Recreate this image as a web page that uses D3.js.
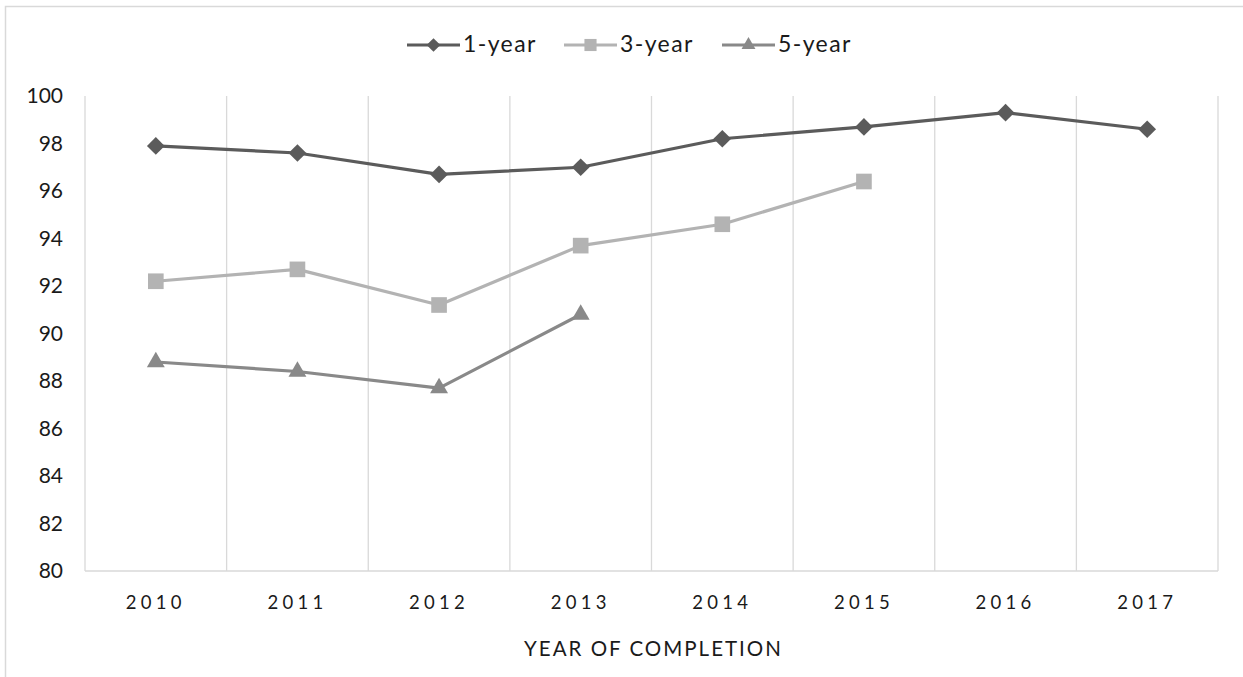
<!DOCTYPE html>
<html>
<head>
<meta charset="utf-8">
<script src="https://cdn.jsdelivr.net/npm/d3@7"></script>
<style>
  html, body { margin: 0; padding: 0; background: #fff; }
  svg { display: block; }
  text { font-family: "Lato", "DejaVu Sans", sans-serif; fill: #1a1a1a; }
</style>
</head>
<body>
<svg id="chart" width="1243" height="677"></svg>
<script>
const years = ["2010", "2011", "2012", "2013", "2014", "2015", "2016", "2017"];
const oneYear = [97.9, 97.6, 96.7, 97.0, 98.2, 98.7, 99.3, 98.6];
const threeYear = [92.2, 92.7, 91.2, 93.7, 94.6, 96.4, null, null];
const fiveYear = [88.8, 88.4, 87.7, 90.8, null, null, null, null];
const yTicks = [80, 82, 84, 86, 88, 90, 92, 94, 96, 98, 100];
const seriesNames = ["1-year", "3-year", "5-year"];
const seriesColors = ["#5b5b5b", "#b3b3b3", "#898989"];
const seriesShapes = [d3.symbolDiamond2, d3.symbolSquare, d3.symbolTriangle2];
const seriesSizes = [200, 245, 230];
const xTitle = "YEAR OF COMPLETION";

const series = [oneYear, threeYear, fiveYear].map((vals, i) => ({
  name: seriesNames[i], color: seriesColors[i], shape: seriesShapes[i], size: seriesSizes[i],
  points: vals.map((v, j) => ({ year: years[j], value: v })).filter(p => p.value !== null)
}));

const svg = d3.select("#chart");
const margin = { left: 85, right: 1218, top: 96, bottom: 571 };

// outer frame
svg.append("rect").attr("x", 5.5).attr("y", 6.5).attr("width", 1300).attr("height", 700)
  .attr("fill", "none").attr("stroke", "#d9d9d9").attr("stroke-width", 1.5);

const x = d3.scaleBand().domain(years).range([margin.left, margin.right]).paddingInner(0).paddingOuter(0);
const y = d3.scaleLinear().domain([80, 100]).range([margin.bottom, margin.top]);

// vertical gridlines at category boundaries
const boundaries = years.map(d => x(d)).concat([margin.right]);
svg.append("g").selectAll("line").data(boundaries).join("line")
  .attr("x1", d => d).attr("x2", d => d)
  .attr("y1", margin.top).attr("y2", margin.bottom)
  .attr("stroke", "#d9d9d9").attr("stroke-width", 1.3);

// bottom axis line
svg.append("line").attr("x1", margin.left).attr("x2", margin.right)
  .attr("y1", margin.bottom).attr("y2", margin.bottom)
  .attr("stroke", "#d9d9d9").attr("stroke-width", 1.3);

// y axis labels
const yAxis = d3.axisLeft(y).tickValues(yTicks).tickSize(0).tickPadding(0).tickFormat(d3.format("d"));
const yg = svg.append("g").attr("transform", `translate(63,0)`).call(yAxis);
yg.select(".domain").remove();
yg.selectAll("text").attr("font-size", 21).attr("fill", "#1a1a1a")
  .style("font-family", "Lato, sans-serif");

// x axis labels
const xAxis = d3.axisBottom(x).tickSize(0).tickPadding(0);
const xg = svg.append("g").attr("transform", `translate(0,${margin.bottom + 32})`).call(xAxis);
xg.select(".domain").remove();
xg.selectAll("text").attr("font-size", 18.5).attr("fill", "#1a1a1a")
  .attr("dy", "0.35em").style("letter-spacing", "4.3px")
  .style("font-family", "Lato, sans-serif");

// x title
svg.append("text").attr("x", (margin.left + margin.right) / 2 + 2).attr("y", 651)
  .attr("text-anchor", "middle").attr("dominant-baseline", "middle")
  .style("letter-spacing", "2px")
  .attr("font-size", 20.5).text(xTitle);

// lines
const line = d3.line().x(d => x(d.year) + x.bandwidth() / 2).y(d => y(d.value));
series.forEach(s => {
  svg.append("path").datum(s.points).attr("d", line)
    .attr("fill", "none").attr("stroke", s.color).attr("stroke-width", 3.2)
    .attr("stroke-linejoin", "round");
  svg.append("g").selectAll("path").data(s.points).join("path")
    .attr("d", d3.symbol().type(s.shape).size(s.size))
    .attr("transform", d => `translate(${x(d.year) + x.bandwidth() / 2},${y(d.value)})`)
    .attr("fill", s.color);
});

// legend
const legendX = [407, 564, 722];
const lg = svg.append("g");
series.forEach((s, i) => {
  const g = lg.append("g").attr("transform", `translate(${legendX[i]},45)`);
  g.append("line").attr("x1", 0).attr("x2", 53).attr("y1", 0).attr("y2", 0)
    .attr("stroke", s.color).attr("stroke-width", 3.2);
  g.append("path").attr("d", d3.symbol().type(s.shape).size(s.size * 0.6))
    .attr("transform", "translate(26.5,0)").attr("fill", s.color);
  g.append("text").attr("x", 56).attr("y", 1).attr("dominant-baseline", "middle")
    .style("letter-spacing", "1.4px")
    .attr("font-size", 23).text(s.name);
});
</script>
</body>
</html>
